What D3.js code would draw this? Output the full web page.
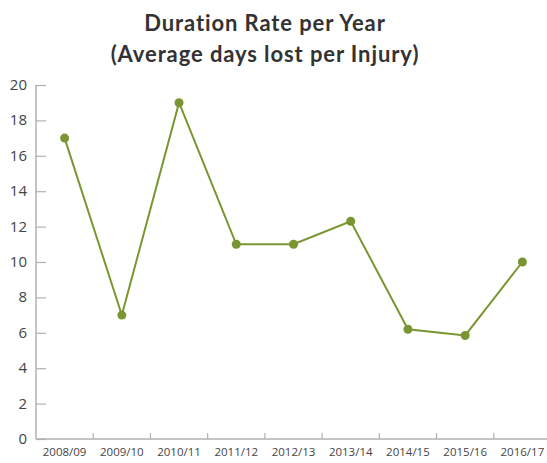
<!DOCTYPE html>
<html><head><meta charset="utf-8">
<script src="https://cdn.jsdelivr.net/npm/d3@7"></script>
<style>body{margin:0;background:#fff;}svg{display:block;}</style>
</head><body>
<svg id="chart" width="547" height="463"></svg>
<script>
const years = ["2008/09","2009/10","2010/11","2011/12","2012/13","2013/14","2014/15","2015/16","2016/17"];
const rates = [17, 7, 19, 11, 11, 12.3, 6.2, 5.85, 10];
const yTicks = [0,2,4,6,8,10,12,14,16,18,20];
const titleLines = ["Duration Rate per Year","(Average days lost per Injury)"];

const svg = d3.select("#chart");
const x = d3.scaleBand().domain(years).range([36, 551]);
const y = d3.scaleLinear().domain([0,20]).range([439, 85]);
const axisColor = "#b0b0b0";
const green = "#7a9632";

svg.append("g").selectAll("text").data(titleLines).join("text")
  .attr("x", 265).attr("y", (d,i)=>31+i*31)
  .attr("text-anchor","middle")
  .attr("font-family","Lato, 'Open Sans', sans-serif")
  .attr("font-weight","bold").attr("font-size",22).attr("letter-spacing",0.9).attr("fill","#333")
  .text(d=>d);

// y axis
const ya = svg.append("g").attr("transform","translate(36,0)")
  .call(d3.axisRight(y).tickValues(yTicks).tickSize(10).tickFormat(""));
ya.select(".domain").remove();
ya.selectAll(".tick line").attr("stroke",axisColor).attr("stroke-width",1.2);
svg.append("line").attr("x1",36).attr("x2",36).attr("y1",y(20)).attr("y2",y(0))
  .attr("stroke",axisColor).attr("stroke-width",1.5);
svg.append("g").selectAll("text").data(yTicks).join("text")
  .attr("x",27).attr("y",d=>y(d)+5).attr("text-anchor","end")
  .attr("font-family","'Open Sans', sans-serif").attr("font-size",15).attr("fill","#444")
  .text(d=>d);

// x axis
svg.append("line").attr("x1",36).attr("x2",547).attr("y1",y(0)).attr("y2",y(0))
  .attr("stroke",axisColor).attr("stroke-width",1.5);
const bounds = years.slice(1).map(d=>x(d));
svg.append("g").selectAll("line").data(bounds).join("line")
  .attr("x1",d=>d).attr("x2",d=>d).attr("y1",y(0)).attr("y2",y(0)-6)
  .attr("stroke",axisColor).attr("stroke-width",1.2);
svg.append("g").selectAll("text").data(years).join("text")
  .attr("x",d=>x(d)+x.bandwidth()/2).attr("y",456).attr("text-anchor","middle")
  .attr("font-family","'Open Sans', sans-serif").attr("font-size",11.5).attr("fill","#444")
  .text(d=>d);

// line
const line = d3.line().x((d,i)=>x(years[i])+x.bandwidth()/2).y(d=>y(d));
svg.append("path").datum(rates).attr("d",line).attr("fill","none")
  .attr("stroke",green).attr("stroke-width",2);
svg.append("g").selectAll("circle").data(rates).join("circle")
  .attr("cx",(d,i)=>x(years[i])+x.bandwidth()/2).attr("cy",d=>y(d)).attr("r",4.5)
  .attr("fill",green);
</script>
</body></html>
